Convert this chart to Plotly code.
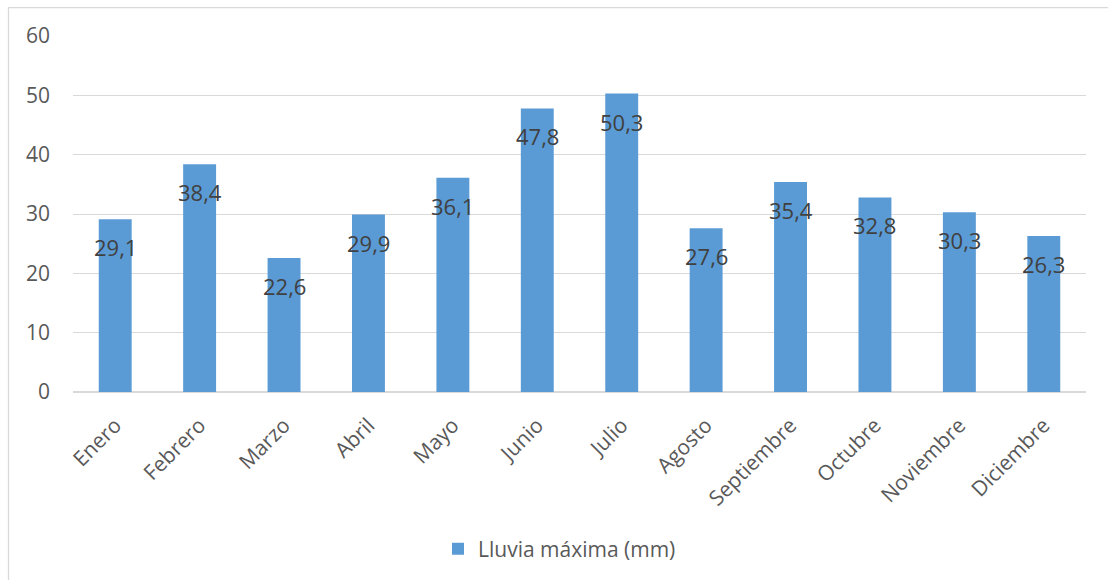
import plotly.graph_objects as go

months = ["Enero", "Febrero", "Marzo", "Abril", "Mayo", "Junio", "Julio",
          "Agosto", "Septiembre", "Octubre", "Noviembre", "Diciembre"]
rain = [29.1, 38.4, 22.6, 29.9, 36.1, 47.8, 50.3, 27.6, 35.4, 32.8, 30.3, 26.3]
series_name = "Lluvia máxima (mm)"
y_ticks = [0, 10, 20, 30, 40, 50, 60]

FONT = "Open Sans"
fig = go.Figure()
fig.add_trace(go.Bar(
    x=months, y=rain, name=series_name,
    marker=dict(color="#5B9BD5", line=dict(width=0)),
    width=0.39,
))
for m, v in zip(months, rain):
    fig.add_annotation(
        x=m, y=v, text=f"{v:.1f}".replace(".", ","),
        showarrow=False, yanchor="middle", yshift=-28,
        font=dict(family=FONT, size=22, color="#404040"),
    )

W, H = 1108, 580
PW, PH = W - 73 - 22, H - 187 - 36
fig.update_layout(
    width=W, height=H,
    margin=dict(l=73, r=22, t=36, b=187),
    paper_bgcolor="white", plot_bgcolor="white",
    showlegend=True,
    legend=dict(orientation="h", x=(438 - 73) / PW, xanchor="left", y=-0.437, yanchor="middle",
                font=dict(family=FONT, size=21, color="#595959")),
    bargap=0.61,
    font=dict(family=FONT, color="#595959"),
    xaxis=dict(tickangle=-45, tickfont=dict(family=FONT, size=21, color="#595959"),
               showgrid=False, showline=False, ticks="", ticklabelstandoff=16),
    yaxis=dict(range=[0, 60], tickvals=y_ticks, showgrid=True, gridcolor="#D9D9D9",
               gridwidth=1.3, zeroline=True, zerolinecolor="#D9D9D9", zerolinewidth=1.5,
               tickfont=dict(family=FONT, size=21, color="#595959"),
               ticklabelstandoff=22),
    shapes=[
        dict(type="line", xref="paper", yref="paper",
             x0=(8 - 73) / PW, x1=1.1, y0=(H - 187 - 7.5) / PH, y1=(H - 187 - 7.5) / PH,
             line=dict(color="#D9D9D9", width=1.3)),
        dict(type="line", xref="paper", yref="paper",
             x0=(8.5 - 73) / PW, x1=(8.5 - 73) / PW,
             y0=(H - 187 - 7) / PH, y1=-1,
             line=dict(color="#D9D9D9", width=1.3)),
    ],
)
fig.write_html("out.html")
